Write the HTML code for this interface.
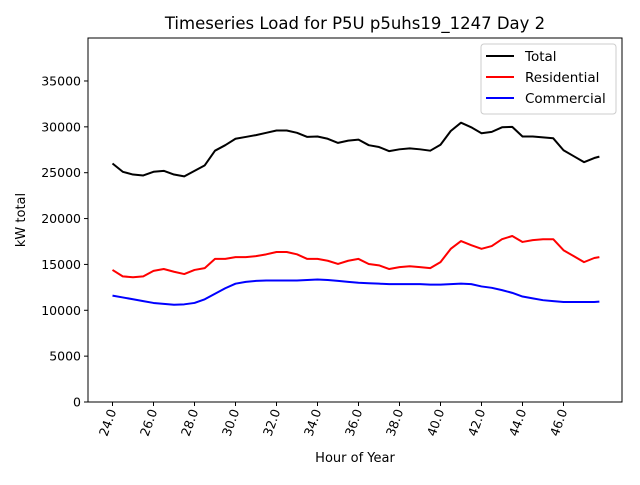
<!DOCTYPE html>
<html><head><meta charset="utf-8"><style>
body{margin:0;background:#fff}
svg{font-family:"DejaVu Sans","Liberation Sans",sans-serif}
</style></head><body>
<svg id="chart" width="640" height="480">
<rect width="640" height="480" fill="#fff"/>
<text x="355" y="29" font-size="16.5" text-anchor="middle">Timeseries Load for P5U p5uhs19_1247  Day 2</text>
<g id="plot"></g>
<text x="355" y="462" font-size="13" text-anchor="middle">Hour of Year</text>
<text transform="translate(25,220) rotate(-90)" font-size="13" text-anchor="middle">kW total</text>
<g>
<rect x="481" y="44" width="135" height="70" rx="3" fill="#fff" stroke="#ccc"/>
<line x1="486" y1="56" x2="514" y2="56" stroke="#000" stroke-width="2"/>
<text x="525" y="61" font-size="13.5">Total</text>
<line x1="486" y1="77" x2="514" y2="77" stroke="#f00" stroke-width="2"/>
<text x="525" y="82" font-size="13.5">Residential</text>
<line x1="486" y1="98" x2="514" y2="98" stroke="#00f" stroke-width="2"/>
<text x="525" y="103" font-size="13.5">Commercial</text>
</g>
</svg>
<script>
const hours=[24,24.5,25,25.5,26,26.5,27,27.5,28,28.5,29,29.5,30,30.5,31,31.5,32,32.5,33,33.5,34,34.5,35,35.5,36,36.5,37,37.5,38,38.5,39,39.5,40,40.5,41,41.5,42,42.5,43,43.5,44,44.5,45,45.5,46,46.5,47,47.5,47.75];
const residential=[14400,13700,13600,13700,14300,14500,14200,13950,14400,14600,15600,15600,15800,15800,15900,16100,16350,16350,16100,15600,15600,15400,15050,15400,15600,15050,14900,14500,14700,14800,14700,14600,15250,16700,17550,17100,16700,17000,17750,18100,17450,17650,17750,17750,16550,15900,15250,15700,15800];
const commercial=[11600,11400,11200,11000,10800,10700,10600,10650,10800,11200,11800,12400,12900,13100,13200,13250,13250,13250,13250,13300,13350,13300,13200,13100,13000,12950,12900,12850,12850,12850,12850,12800,12800,12850,12900,12850,12600,12450,12200,11900,11500,11300,11100,11000,10900,10900,10900,10900,10950];
const total=[26000,25100,24800,24700,25100,25200,24800,24600,25200,25800,27400,28000,28700,28900,29100,29350,29600,29600,29350,28900,28950,28700,28250,28500,28600,28000,27800,27350,27550,27650,27550,27400,28050,29550,30450,29950,29300,29450,29950,30000,28950,28950,28850,28750,27450,26800,26150,26600,26750];
const xTicks=[24,26,28,30,32,34,36,38,40,42,44,46];
const yTicks=[0,5000,10000,15000,20000,25000,30000,35000];
const NS="http://www.w3.org/2000/svg";
const L=88,R=622,T=38,B=402;
const sx=h=>112.5+(h-24)*20.5;
const sy=v=>B-v*(45.86/5000);
const g=document.getElementById('plot');
function mk(tag,attrs,parent){const e=document.createElementNS(NS,tag);for(const k in attrs)e.setAttribute(k,attrs[k]);(parent||g).appendChild(e);return e;}
yTicks.forEach(v=>{
  const y=sy(v);
  const t=mk('line',{x1:L-4,x2:L,y1:y,y2:y,stroke:'#000'});
  
  
  const tx=mk('text',{x:L-7,y:y+4.5,'font-size':'12.5','text-anchor':'end'});
  tx.textContent=v;
  
  
});
xTicks.forEach(h=>{
  const x=sx(h);
  const t=mk('line',{x1:x,x2:x,y1:B,y2:B+4,stroke:'#000'});
  
  
  const tx=mk('text',{transform:`translate(${x+4},${B+9}) rotate(-70)`,'font-size':'12.5','text-anchor':'end'});
  tx.textContent=h.toFixed(1);
  
  
});
function line(arr,color,name){
  const p=mk('polyline',{points:arr.map((v,i)=>sx(hours[i])+','+sy(v)).join(' '),fill:'none',stroke:color,'stroke-width':'2','stroke-linejoin':'round'});
  
  
}
line(total,'#000','total-line');
line(residential,'#f00','residential-line');
line(commercial,'#00f','commercial-line');
const fr=mk('rect',{x:L,y:T,width:R-L,height:B-T,fill:'none',stroke:'#000','stroke-width':'1'});


</script>
</body></html>
